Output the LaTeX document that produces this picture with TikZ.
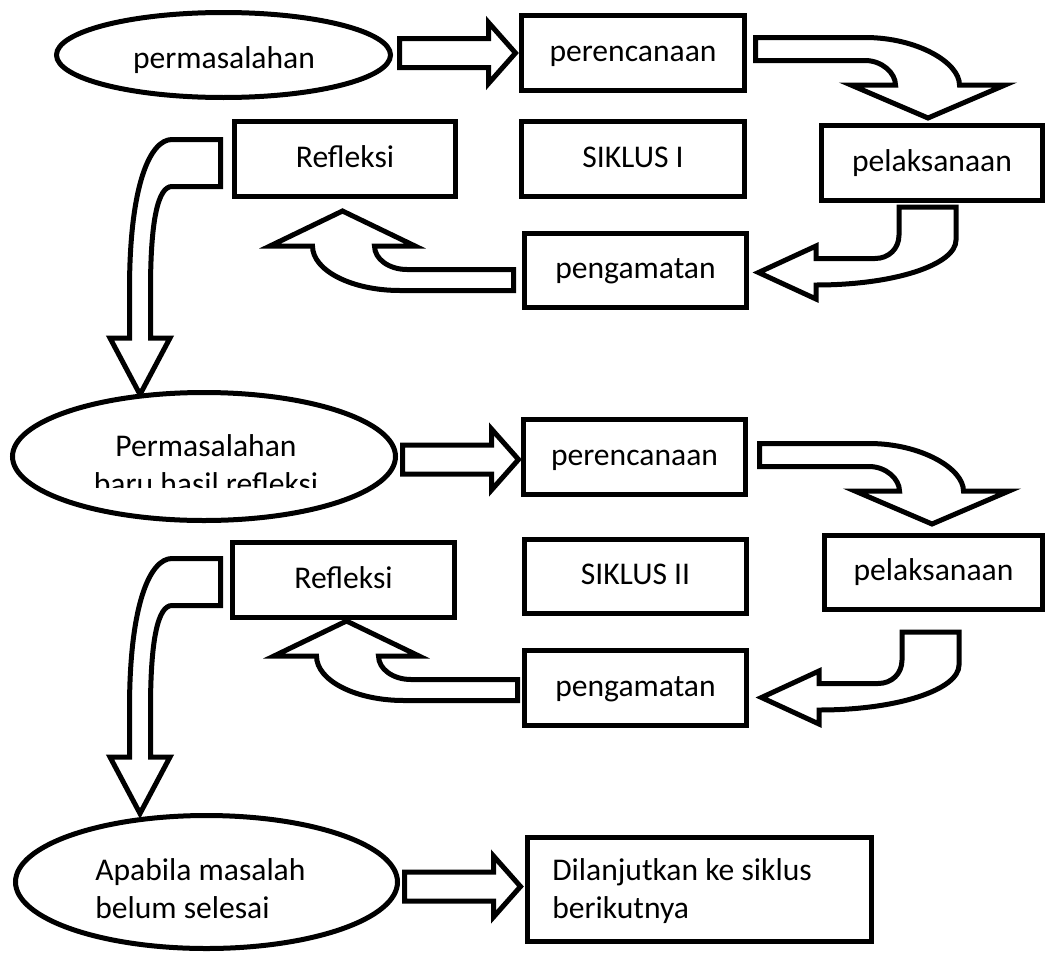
\documentclass[tikz,border=0pt]{standalone}
\usepackage{fontspec}
\setmainfont{Carlito}
\usetikzlibrary{shapes.geometric}
\newcommand{\dfont}{\fontsize{23.7pt}{28.5pt}\selectfont}
\tikzset{
  sz/.style 2 args={minimum width=#1*0.75pt, minimum height=#2*0.75pt},
  box/.style={draw, line width=3.75pt, fill=white, inner sep=0pt, text height=17pt, text depth=4.5pt, font=\dfont},
  ell/.style={draw, ellipse, line width=3.75pt, fill=white, inner sep=0pt},
  txt/.style={inner sep=0pt, font=\dfont},
  blk/.style={draw, line width=3.75pt, fill=white, line join=miter, miter limit=20},
  straightarr/.pic={\draw[blk] (0,-14.5) -- (89,-14.5) -- (89,-30.5) -- (116,0) -- (89,30.5) -- (89,14.5) -- (0,14.5) -- cycle;},
  curvedA/.pic={\draw[blk] (755.5,37.5) -- (865,37.5) .. controls (917,37.5) and (959.5,62.5) .. (959.5,85) -- (1005,85) -- (928,118) -- (851,85) -- (895.5,85) .. controls (895.5,73) and (882,60.5) .. (865,60.5) -- (755.5,60.5) -- cycle;},
  curvedB/.pic={\draw[blk] (899,207) -- (956,207) -- (956,240) .. controls (956,264.6) and (894.8,285) .. (816,285) -- (816,299) -- (758.5,272.5) -- (816,246) -- (816,258.5) -- (875,258.5) .. controls (889,258.5) and (899,248.5) .. (899,235) -- cycle;},
  curvedC/.pic={\draw[blk] (513.5,269.5) -- (407,269.5) .. controls (389,269.5) and (374.5,259) .. (374.5,246) -- (415,246) -- (342.5,211) -- (270,246) -- (312.5,246) .. controls (312.5,270.6) and (351.7,290.5) .. (400,290.5) -- (513.5,290.5) -- cycle;},
  curvedD/.pic={\draw[blk] (220.5,139.5) -- (172,139.5) .. controls (150,139.5) and (129.5,185) .. (129.5,290) -- (129.5,338) -- (110,338) -- (140,394.5) -- (170,338) -- (150.5,338) -- (150.5,290) .. controls (150.5,220) and (158,186.5) .. (172,186.5) -- (220.5,186.5) -- cycle;}
}
\begin{document}
\begin{tikzpicture}[x=0.75pt,y=-0.75pt]
\useasboundingbox (0,0) rectangle (1045,953);
\fill[white] (0,0) rectangle (1045,953);

% block arrows
\pic (a1) at (399.5,53) {straightarr};
\pic (a5) at (402.5,459.5) {straightarr};
\pic (a10) at (404.5,886.5) {straightarr};
\pic (c1) at (0,0) {curvedA};
\pic (c6) at (4,406) {curvedA};
\pic (c2) at (0,0) {curvedB};
\pic (c7) at (3,425) {curvedB};
\pic (c3) at (0,0) {curvedC};
\pic (c8) at (4,410) {curvedC};
\pic (c4) at (0,0) {curvedD};
\pic (c9) at (0,419) {curvedD};

% cycle I
\node[ell, sz={334}{85}] (e1) at (223.5,55) {};
\node[txt, anchor=base] (te1) at (224,68) {permasalahan};
\node[box, sz={223}{75}] (plan1) at (633,53) {perencanaan};
\node[box, sz={223}{75}] (sik1) at (633,159) {SIKLUS I};
\node[box, sz={221}{75}] (refl1) at (345,159) {Refleksi};
\node[box, sz={221}{75}] (laks1) at (932,163) {pelaksanaan};
\node[box, sz={222}{74}] (amat1) at (635.5,270.5) {pengamatan};

% cycle II
\node[ell, sz={383}{128}] (e2) at (204,456.5) {};
\begin{scope}
  \clip (0,0) rectangle (1045,487);
  \node[txt, anchor=base, align=center] (te2) at (206,494) {Permasalahan\\baru hasil refleksi};
\end{scope}
\node[box, sz={222}{75}] (plan2) at (634.5,457) {perencanaan};
\node[box, sz={222}{74}] (sik2) at (635.5,576.5) {SIKLUS II};
\node[box, sz={222}{75}] (refl2) at (343.5,580) {Refleksi};
\node[box, sz={218}{74}] (laks2) at (933.5,572.5) {pelaksanaan};
\node[box, sz={222}{75}] (amat2) at (635.5,688) {pengamatan};

% end
\node[ell, sz={382}{133}] (e3) at (206.5,882) {};
\node[txt, anchor=base west, align=left] (te3) at (95,918) {Apabila masalah\\belum selesai};
\node[box, sz={344}{104}] (lanjut) at (699.5,889.5) {};
\node[txt, anchor=base west, align=left] (tl) at (552,918) {Dilanjutkan ke siklus\\berikutnya};
\end{tikzpicture}
\end{document}
